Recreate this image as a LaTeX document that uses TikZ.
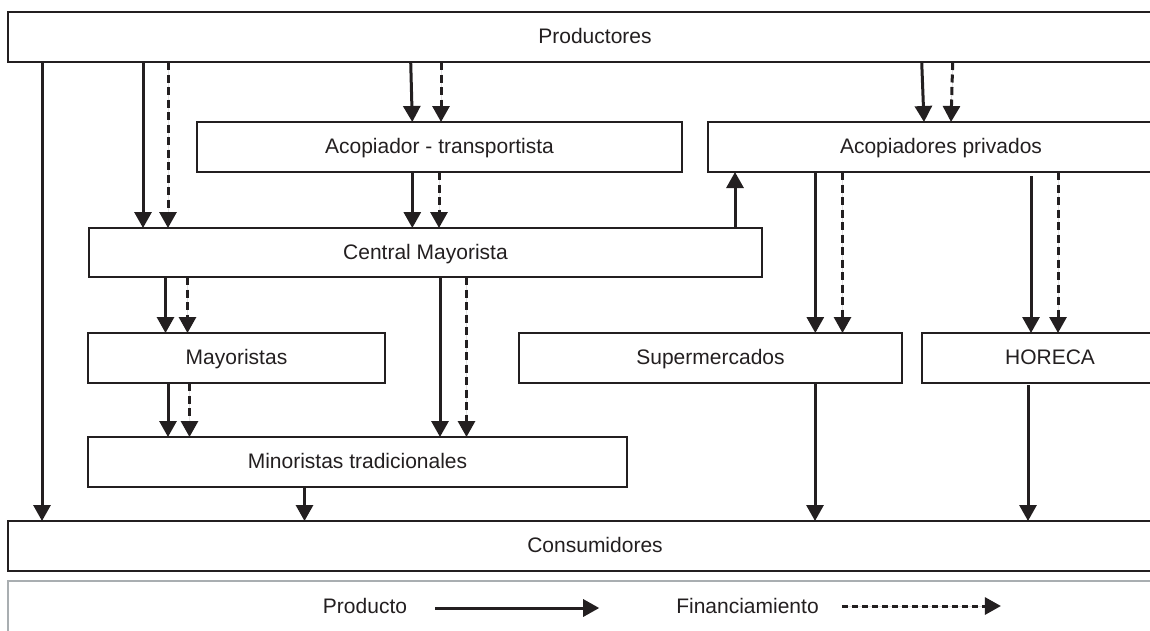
\documentclass[tikz,border=0pt]{standalone}
\usepackage{fontspec}
\setmainfont{Liberation Sans}
\usetikzlibrary{arrows.meta}
\definecolor{ink}{HTML}{231F20}
\definecolor{legendgrey}{HTML}{A9AEB1}
\begin{document}
\begin{tikzpicture}[x=1pt,y=-1pt,
  box/.style={draw=ink, line width=1.8pt, minimum height=50pt, inner sep=0pt,
    outer sep=0pt, text height=16pt, text depth=3pt,
    font=\fontsize{21}{25}\selectfont, text=ink},
  label/.style={inner sep=0pt, text height=16pt, text depth=3pt,
    font=\fontsize{21}{25}\selectfont, text=ink},
  flow/.style={line width=3pt, draw=ink, fill=ink,
    -{Triangle[width=17pt,length=16pt]}},
  fin/.style={line width=3pt, draw=ink, fill=ink,
    dash pattern=on 8pt off 4.5pt, -{Triangle[width=17pt,length=16pt]}},
]
\useasboundingbox (0,0) rectangle (1150,630);
\clip (0,0) rectangle (1150,630);
\fill[white] (0,0) rectangle (1150,630);

% boxes (the wide ones run past the right margin)
\node[box, minimum width=1174pt] (prod) at (595,37) {Productores};
\node[box, minimum width=485pt] (acop) at (439.5,147) {Acopiador - transportista};
\node[box, minimum width=466pt] (priv) at (941,147) {Acopiadores privados};
\node[box, minimum width=673pt, minimum height=49pt] (cent) at (425.5,252.5) {Central Mayorista};
\node[box, minimum width=297pt] (mayo) at (236.5,358) {Mayoristas};
\node[box, minimum width=383pt] (super) at (710.5,358) {Supermercados};
\node[box, minimum width=256pt] (horeca) at (1050,358) {HORECA};
\node[box, minimum width=539pt] (mino) at (357.5,462) {Minoristas tradicionales};
\node[box, minimum width=1174pt] (cons) at (595,546) {Consumidores};
\node[box, draw=legendgrey, minimum width=1174pt, minimum height=70pt] (leg) at (595,616) {};

% Productores -> Consumidores
\draw[flow] ([xshift=34pt]prod.south west) -- ([xshift=34pt]cons.north west);
% Productores -> Central Mayorista
\draw[flow] ([xshift=135pt]prod.south west) -- ([xshift=54pt]cent.north west);
\draw[fin]  ([xshift=160pt]prod.south west) -- ([xshift=79pt]cent.north west);
% Productores -> Acopiador - transportista
\draw[flow] ([xshift=402.7pt]prod.south west) -- ([xshift=215.3pt]acop.north west);
\draw[fin]  ([xshift=433pt]prod.south west) -- ([xshift=244pt]acop.north west);
% Acopiador - transportista -> Central Mayorista
\draw[flow] ([xshift=215.3pt]acop.south west) -- ([xshift=323.3pt]cent.north west);
\draw[fin]  ([xshift=242pt]acop.south west) -- ([xshift=350pt]cent.north west);
% Central Mayorista -> Acopiadores privados
\draw[flow] ([xshift=646pt]cent.north west) -- ([xshift=27pt]priv.south west);
% Productores -> Acopiadores privados
\draw[flow] ([xshift=913.7pt]prod.south west) -- ([xshift=216pt]priv.north west);
\draw[fin]  ([xshift=944.7pt]prod.south west) -- ([xshift=243pt]priv.north west);
% Acopiadores privados -> Supermercados
\draw[flow] ([xshift=107.3pt]priv.south west) -- ([xshift=296.3pt]super.north west);
\draw[fin]  ([xshift=134.5pt]priv.south west) -- ([xshift=323.5pt]super.north west);
% Acopiadores privados -> HORECA
\draw[flow] ([xshift=323pt,yshift=-4pt]priv.south west) -- ([xshift=109pt]horeca.north west);
\draw[fin]  ([xshift=350pt]priv.south west) -- ([xshift=136pt]horeca.north west);
% Central Mayorista -> Mayoristas
\draw[flow] ([xshift=76.5pt]cent.south west) -- ([xshift=77.5pt]mayo.north west);
\draw[fin]  ([xshift=98.5pt]cent.south west) -- ([xshift=99.5pt]mayo.north west);
% Central Mayorista -> Minoristas tradicionales
\draw[flow] ([xshift=351pt]cent.south west) -- ([xshift=352pt]mino.north west);
\draw[fin]  ([xshift=377.5pt]cent.south west) -- ([xshift=378.5pt]mino.north west);
% Mayoristas -> Minoristas tradicionales
\draw[flow] ([xshift=80pt]mayo.south west) -- ([xshift=80pt]mino.north west);
\draw[fin]  ([xshift=101.5pt]mayo.south west) -- ([xshift=101.5pt]mino.north west);
% retail -> Consumidores
\draw[flow] ([xshift=216.5pt]mino.south west) -- ([xshift=296.5pt]cons.north west);
\draw[flow] ([xshift=296pt]super.south west) -- ([xshift=807pt]cons.north west);
\draw[flow] ([xshift=106pt,yshift=-2pt]horeca.south west) -- ([xshift=1020pt]cons.north west);

% legend
\node[label] (lp) at (365,607) {Producto};
\node[label] (lf) at (747.5,607) {Financiamiento};
\draw[flow] ([xshift=28pt,yshift=-1pt]lp.east) -- ([xshift=192pt,yshift=-1pt]lp.east);
\draw[fin, dash pattern=on 6pt off 4pt] ([xshift=23pt,yshift=1pt]lf.east) -- ([xshift=182pt,yshift=1pt]lf.east);
\end{tikzpicture}
\end{document}
